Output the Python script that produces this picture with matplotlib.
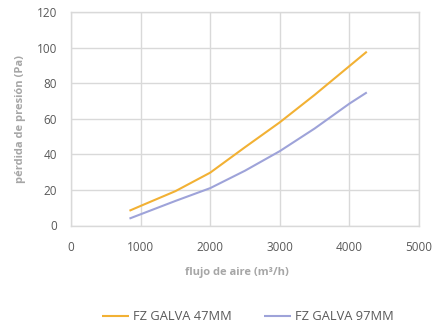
import matplotlib
matplotlib.use("Agg")
import matplotlib.pyplot as plt

flow = [840, 1000, 1500, 2000, 2500, 3000, 3500, 4000, 4250]
galva_47 = [8.3, 11, 19.3, 29.7, 44, 58, 73.4, 89.6, 97.7]
galva_97 = [3.9, 6.3, 13.8, 21, 30.8, 41.8, 54.5, 68.5, 74.8]
series_names = ["FZ GALVA 47MM", "FZ GALVA 97MM"]
x_ticks = [0, 1000, 2000, 3000, 4000, 5000]
y_ticks = [0, 20, 40, 60, 80, 100, 120]

plt.rcParams['font.family'] = ['Open Sans', 'DejaVu Sans']

fig = plt.figure(figsize=(4.34, 3.23), dpi=100)
ax = fig.add_axes([71/434, 1-225.5/323, (419-71)/434, (225.5-12)/323])

ax.plot(flow, galva_47, color='#F2B134', lw=1.5, label=series_names[0], solid_capstyle='butt')
ax.plot(flow, galva_97, color='#9EA3D9', lw=1.5, label=series_names[1], solid_capstyle='butt')

ax.set_xlim(0, 5000)
ax.set_ylim(0, 120)
ax.set_xticks(x_ticks)
ax.set_yticks(y_ticks)
ax.grid(True, color='#d9d9d9', lw=1)
ax.set_axisbelow(True)
for s in ax.spines.values():
    s.set_color('#d9d9d9')
    s.set_linewidth(1)
ax.tick_params(length=0, labelsize=8.5, labelcolor='#595959')
ax.tick_params(axis='x', pad=11)
ax.tick_params(axis='y', pad=10)

ax.set_xlabel('flujo de aire (m³/h)', fontsize=8, color='#a6a6a6', fontweight='bold')
ax.xaxis.set_label_coords((237-71)/(419-71), -0.22)
ax.xaxis.label.set_va('center')
ax.set_ylabel('pérdida de presión (Pa)', fontsize=8, color='#a6a6a6', fontweight='bold', labelpad=8)

fig.legend(loc='center', bbox_to_anchor=(248/434, 1-317/323), ncol=2, frameon=False,
           fontsize=9.3, labelcolor='#595959', handlelength=2.1, handletextpad=0.3,
           columnspacing=2.5, borderpad=0)

fig.savefig('out.png', dpi=100)
